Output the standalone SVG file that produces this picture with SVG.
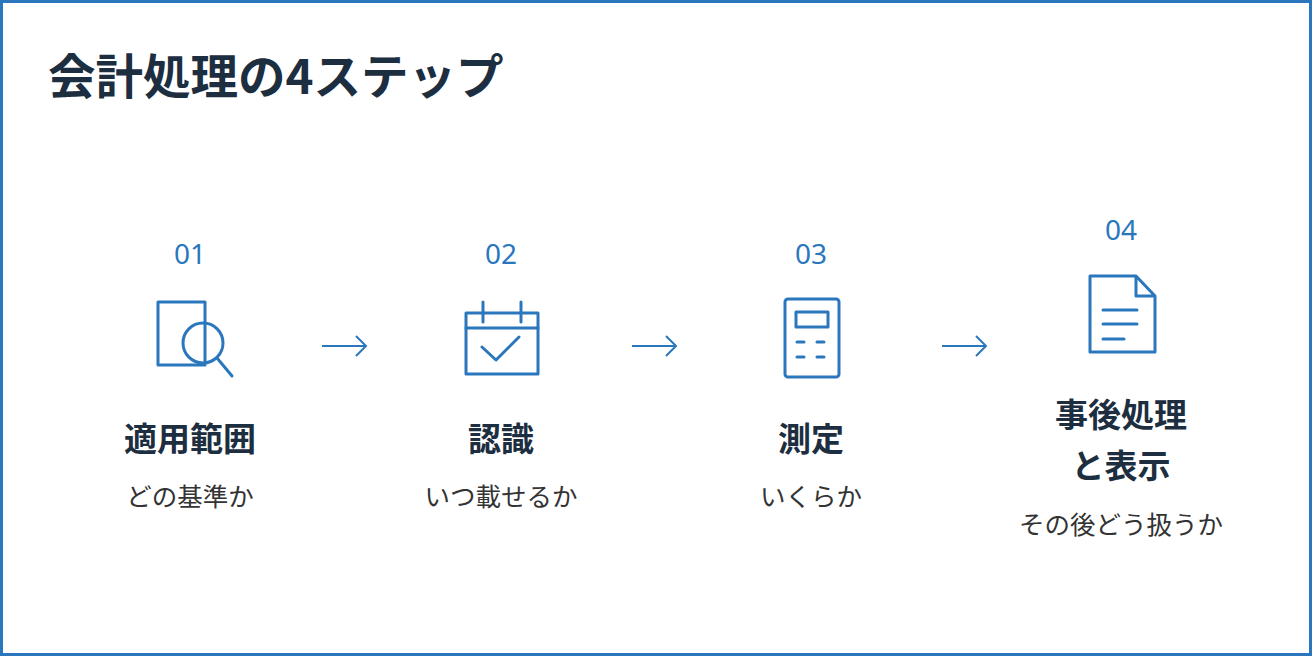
<svg xmlns="http://www.w3.org/2000/svg" width="1312" height="656" viewBox="0 0 1312 656">
<style>
.ic{fill:none;stroke:#2a77bd;stroke-width:3;stroke-linecap:round;stroke-linejoin:round}
.num{font:28px "Noto Sans","Noto Sans CJK JP",sans-serif;fill:#2a77bd;text-anchor:middle}
.tt{font:bold 33px "Noto Sans CJK JP",sans-serif;fill:#1c2e40;text-anchor:middle}
.sb{font:25.5px "Noto Sans CJK JP",sans-serif;fill:#333;text-anchor:middle}
.ar{fill:none;stroke:#2a77bd;stroke-width:2}
</style>
<rect x="1.5" y="1.5" width="1309" height="653" fill="#fff" stroke="#2a77bd" stroke-width="3"/>
<text x="48" y="94" style="font:bold 47.5px 'Noto Sans CJK JP',sans-serif;fill:#1c2e40">会計処理の4ステップ</text>
<g id="step1">
<text class="num" x="190" y="264">01</text>
<rect class="ic" x="158" y="302" width="47" height="63"/>
<circle class="ic" cx="203" cy="343" r="20" fill="#fff"/>
<line class="ic" x1="217" y1="358" x2="232" y2="376"/>
<text class="tt" x="190" y="451">適用範囲</text>
<text class="sb" x="190" y="506">どの基準か</text>
</g>
<g id="step2">
<text class="num" x="501" y="264">02</text>
<rect class="ic" x="466" y="313" width="72" height="61"/>
<line class="ic" x1="466" y1="328" x2="538" y2="328"/>
<line class="ic" x1="483" y1="302" x2="483" y2="322"/>
<line class="ic" x1="521" y1="302" x2="521" y2="322"/>
<polyline class="ic" points="482,347 496,360 519,337"/>
<text class="tt" x="501" y="451">認識</text>
<text class="sb" x="501" y="506">いつ載せるか</text>
</g>
<g id="step3">
<text class="num" x="811" y="264">03</text>
<rect class="ic" x="785" y="299" width="54" height="78" rx="3"/>
<rect class="ic" x="796" y="312" width="32" height="15"/>
<path class="ic" d="M797 342h7M817 342h7M797 357h7M817 357h7"/>
<text class="tt" x="811" y="451">測定</text>
<text class="sb" x="811" y="506">いくらか</text>
</g>
<g id="step4">
<text class="num" x="1121" y="240">04</text>
<path class="ic" d="M1090 276H1136L1155 296V352H1090Z M1136 276V296H1155"/>
<path class="ic" d="M1103 310H1137M1103 324H1137M1103 339H1124"/>
<text class="tt" x="1121" y="427">事後処理</text>
<text class="tt" x="1121" y="478">と表示</text>
<text class="sb" x="1121" y="534">その後どう扱うか</text>
</g>
<g id="connectors">
<path class="ar" d="M322 346H366M356 336L366 346L356 356"/>
<path class="ar" d="M632 346H676M666 336L676 346L666 356"/>
<path class="ar" d="M942 346H986M976 336L986 346L976 356"/>
</g>
</svg>
